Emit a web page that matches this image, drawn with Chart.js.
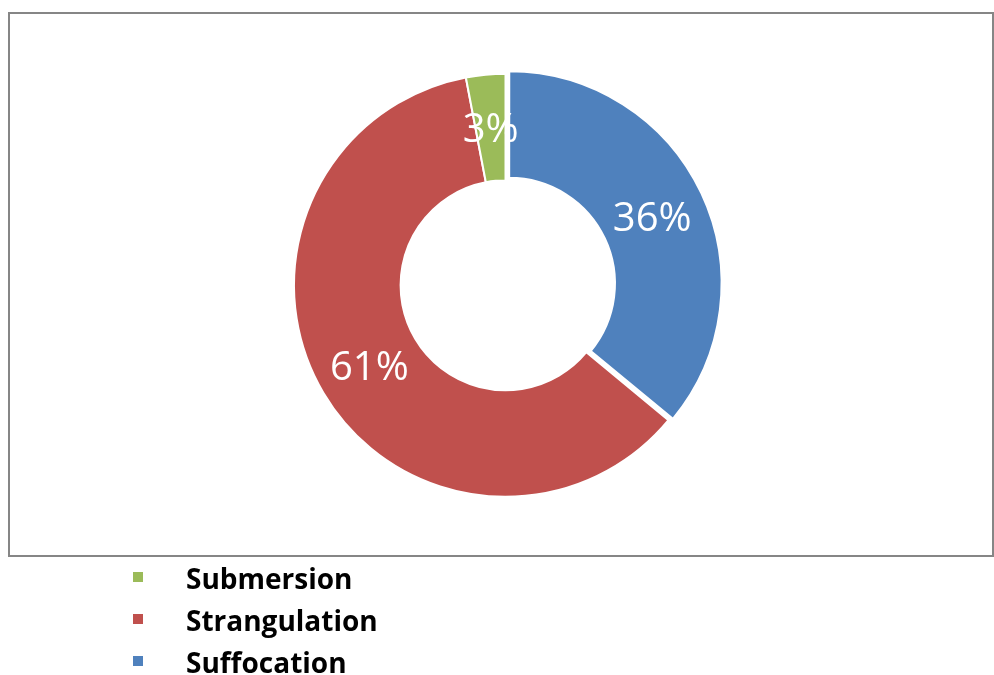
<!DOCTYPE html>
<html>
<head>
<meta charset="utf-8">
<script src="https://cdn.jsdelivr.net/npm/chart.js@4/dist/chart.umd.min.js"></script>
<style>
  html, body { margin: 0; padding: 0; background: #ffffff; }
  #wrap { position: relative; width: 994px; height: 675px; overflow: hidden; }
  #chart { position: absolute; left: 0; top: 0; }
  #frame {
    position: absolute; left: 8px; top: 12px; width: 982px; height: 541px;
    border: 2px solid #868686; pointer-events: none;
  }
  #legend { position: absolute; left: 0; top: 0; width: 994px; height: 675px; pointer-events: none; }
  .item { position: absolute; left: 133px; height: 42px; line-height: 42px; white-space: nowrap;
          font-family: "Open Sans", sans-serif; font-weight: bold; font-size: 28px; color: #000; }
  .box { position: absolute; left: 0; top: 14.5px; width: 10px; height: 10px; }
  .txt { position: absolute; left: 53px; top: 0; }
</style>
</head>
<body>
<div id="wrap">
  <canvas id="chart" width="994" height="675"></canvas>
  <div id="frame"></div>
  <div id="legend"></div>
</div>
<script>
// Causes, clockwise from 12 o'clock
const categories = ["Suffocation", "Strangulation", "Submersion"];
const shares = [36, 61, 3];
const sliceColors = ["#4F81BD", "#C0504D", "#9BBB59"];
// Chart.js v4 moves an arc by offset / 4 pixels, so 16 pulls the first slice out by 4px
const explode = [16, 0, 0];

// White percentage labels placed at the middle of each ring segment
const percentLabels = {
  id: "percentLabels",
  afterDatasetsDraw(chart) {
    const ctx = chart.ctx;
    const meta = chart.getDatasetMeta(0);
    const values = chart.data.datasets[0].data;
    const total = values.reduce((a, b) => a + b, 0);
    const fontSize = 40;
    ctx.save();
    ctx.fillStyle = "#ffffff";
    ctx.font = fontSize + 'px "Open Sans", sans-serif';
    ctx.textAlign = "center";
    ctx.textBaseline = "alphabetic";
    meta.data.forEach((arc, i) => {
      const mid = (arc.startAngle + arc.endAngle) / 2;
      const shift = (arc.options.offset || 0) / 4;
      const r = (arc.innerRadius + arc.outerRadius) / 2 + shift;
      const x = arc.x + Math.cos(mid) * r;
      const y = arc.y + Math.sin(mid) * r;
      ctx.fillText(Math.round(values[i] / total * 100) + "%", x, y + fontSize * 0.357);
    });
    ctx.restore();
  }
};

const chart = new Chart(document.getElementById("chart"), {
  type: "doughnut",
  data: {
    labels: categories,
    datasets: [{
      data: shares,
      backgroundColor: sliceColors,
      borderColor: "#ffffff",
      borderWidth: 2,
      offset: explode
    }]
  },
  options: {
    responsive: false,
    animation: false,
    radius: 211.5,
    cutout: "49.6%",
    layout: { padding: { left: 17, right: 0, top: 0, bottom: 104.4 } },
    plugins: {
      legend: { display: false },
      tooltip: { enabled: false }
    }
  },
  plugins: [percentLabels]
});

// Vertical legend below the frame, listed in reverse order
const legend = document.getElementById("legend");
const items = categories.map((c, i) => ({ text: c, color: sliceColors[i] })).reverse();
items.forEach((it, k) => {
  const row = document.createElement("div");
  row.className = "item";
  row.style.top = (557.2 + k * 42) + "px";
  const box = document.createElement("span");
  box.className = "box";
  box.style.background = it.color;
  const txt = document.createElement("span");
  txt.className = "txt";
  txt.textContent = it.text;
  row.appendChild(box);
  row.appendChild(txt);
  legend.appendChild(row);
});
</script>
</body>
</html>
